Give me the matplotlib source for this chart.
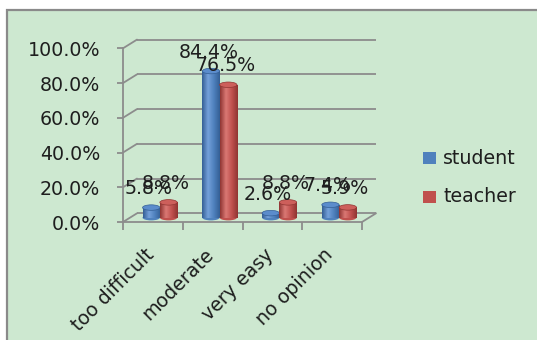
import numpy as np
import matplotlib
matplotlib.use("Agg")
import matplotlib.pyplot as plt
from matplotlib.transforms import ScaledTranslation
from matplotlib.patches import Rectangle, Ellipse, ConnectionPatch
from matplotlib.colors import LinearSegmentedColormap

# ---- data ----
categories = ["too difficult", "moderate", "very easy", "no opinion"]
series_names = ["student", "teacher"]
student = [5.8, 84.4, 2.6, 7.4]
teacher = [8.8, 76.5, 8.8, 5.9]
y_ticks = [0, 20, 40, 60, 80, 100]

# ---- style ----
DPI = 100
FS = 13.7
TXT = "#1e1e1e"
GRID = "#8c8c8c"
BG = "#cde8d0"
BLUE = {"base": "#4f81bd", "light": "#74a0da", "dark": "#345f95", "top": "#5b8ccc"}
RED = {"base": "#c0504d", "light": "#da7874", "dark": "#903532", "top": "#cd5f5b"}
DX, DY = 14, 8.7          # depth of the 3-D box, in pixels
BAR_W = 0.29

plt.rcParams["font.family"] = ["DejaVu Sans"]

fig = plt.figure(figsize=(5.37, 3.40), dpi=DPI, facecolor="white")

# chart area frame
fig.add_artist(Rectangle((7 / 537, -0.1), 1.2, (340 - 10) / 340 + 0.1,
                         transform=fig.transFigure, facecolor=BG,
                         edgecolor="#8a8a8a", lw=1.6, zorder=0))

ax = fig.add_axes([123 / 537, (340 - 222) / 340, 239 / 537, 173.7 / 340])
ax.set_facecolor("none")
ax.set_xlim(-0.5, len(categories) - 0.5)
ax.set_ylim(0, 100)

back_tr = ax.transData + ScaledTranslation(DX / DPI, DY / DPI, fig.dpi_scale_trans)
bar_tr = ax.transData + ScaledTranslation(DX / 2 / DPI, DY / 2 / DPI, fig.dpi_scale_trans)

# back wall gridlines and side-wall diagonals
x_lo, x_hi = ax.get_xlim()
for v in y_ticks:
    ax.plot([x_lo, x_hi], [v, v], transform=back_tr, color=GRID, lw=1.3,
            clip_on=False, zorder=1, solid_capstyle="butt")
    ax.add_artist(ConnectionPatch(xyA=(x_lo, v), coordsA=ax.transData,
                                  xyB=(x_lo, v), coordsB=back_tr,
                                  color=GRID, lw=1.3, zorder=1))
# floor right edge
ax.add_artist(ConnectionPatch(xyA=(x_hi, 0), coordsA=ax.transData,
                              xyB=(x_hi, 0), coordsB=back_tr,
                              color=GRID, lw=1.3, zorder=1))

# front axes
for s in ["top", "right"]:
    ax.spines[s].set_visible(False)
for s in ["left", "bottom"]:
    ax.spines[s].set_color(GRID)
    ax.spines[s].set_linewidth(1.3)
    ax.spines[s].set_zorder(1)

ax.set_xticks(np.arange(len(categories) + 1) - 0.5)
ax.set_xticklabels([])
ax.tick_params(axis="x", direction="out", length=5.5, width=1.3, color=GRID)
ax.set_yticks(y_ticks)
ax.set_yticklabels([f"{v:.1f}%" for v in y_ticks], fontsize=FS, color=TXT)
ax.tick_params(axis="y", direction="out", length=4.3, width=1.3, color=GRID, pad=12.2)

# category labels
lab_tr = ax.get_xaxis_transform() + ScaledTranslation(4.7 / DPI, -23 / DPI, fig.dpi_scale_trans)
for i, name in enumerate(categories):
    ax.text(i, 0, name, transform=lab_tr, rotation=45, ha="right", va="top",
            fontsize=FS, color=TXT)

# cylinders
ell_h = 5.5 / (ax.get_position().height * 340) * 100


def cylinder(xc, val, pal, z):
    x0 = xc - BAR_W / 2
    cmap = LinearSegmentedColormap.from_list(
        "c", [pal["dark"], pal["light"], pal["base"], pal["dark"]])
    ax.add_patch(Ellipse((xc, 0), BAR_W, ell_h, transform=bar_tr,
                         facecolor=pal["base"], edgecolor="none", zorder=z))
    rect = ax.bar([xc], [val], width=BAR_W, bottom=0, transform=bar_tr,
                  color=pal["base"], zorder=z + 0.1)[0]
    grad = np.linspace(0, 1, 64).reshape(1, -1)
    im = ax.imshow(grad, extent=(x0, x0 + BAR_W, 0, val), aspect="auto",
                   cmap=cmap, transform=bar_tr, zorder=z + 0.2,
                   interpolation="bilinear")
    im.set_clip_path(rect)
    ax.add_patch(Ellipse((xc, val), BAR_W, ell_h, transform=bar_tr,
                         facecolor=pal["top"], edgecolor=pal["dark"],
                         lw=0.5, zorder=z + 0.3))


lbl_tr = bar_tr + ScaledTranslation(-2.7 / DPI, 19 / DPI, fig.dpi_scale_trans)
for i in range(len(categories)):
    for j, (vals, pal) in enumerate([(student, BLUE), (teacher, RED)]):
        xc = i + (j - 0.5) * BAR_W
        cylinder(xc, vals[i], pal, 3 + j)

for i in range(len(categories)):
    for j, vals in enumerate([student, teacher]):
        xc = i + (j - 0.5) * BAR_W
        ax.text(xc, vals[i], f"{vals[i]:.1f}%", transform=lbl_tr,
                ha="center", va="center", fontsize=FS, color=TXT, zorder=10)

ax.set_xlim(-0.5, len(categories) - 0.5)
ax.set_ylim(0, 100)

# legend
for k, (name, pal) in enumerate(zip(series_names, [BLUE, RED])):
    yc = 340 - (158.3 + k * 38.7)
    fig.add_artist(Rectangle((423.3 / 537, (yc - 6.2) / 340), 12.4 / 537, 12.4 / 340,
                             transform=fig.transFigure, facecolor=pal["base"],
                             edgecolor="none"))
    fig.text(443 / 537, yc / 340, name, fontsize=FS, color=TXT,
             ha="left", va="center")

fig.savefig("out.png", dpi=DPI, facecolor="white")
